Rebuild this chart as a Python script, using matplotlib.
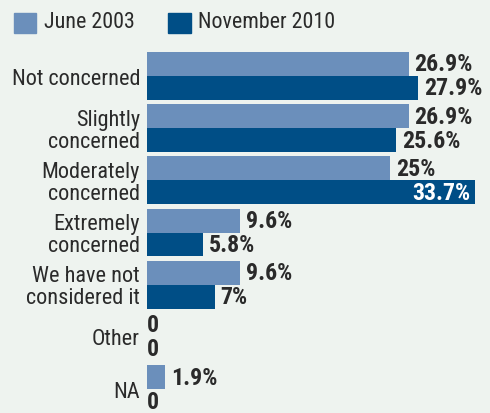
import matplotlib
matplotlib.use("Agg")
import matplotlib.pyplot as plt
from matplotlib.patches import Rectangle
from matplotlib import font_manager as fm

categories = ["Not concerned", "Slightly\nconcerned", "Moderately\nconcerned",
              "Extremely\nconcerned", "We have not\nconsidered it", "Other", "NA"]
june_2003 = [26.9, 26.9, 25.0, 9.6, 9.6, 0.0, 1.9]
nov_2010 = [27.9, 25.6, 33.7, 5.8, 7.0, 0.0, 0.0]
june_labels = ["26.9%", "26.9%", "25%", "9.6%", "9.6%", "0", "1.9%"]
nov_labels = ["27.9%", "25.6%", "33.7%", "5.8%", "7%", "0", "0"]
series_names = ["June 2003", "November 2010"]

BG = "#eef3ef"
C1 = "#6b8fbb"
C2 = "#004e86"
TXT = "#2a2a2a"
_names = {f.name for f in fm.fontManager.ttflist}
_cands = ["Roboto Condensed", "Archivo Narrow", "Liberation Sans Narrow", "Liberation Sans", "DejaVu Sans"]
FONT = [c for c in _cands if c in _names] or ["DejaVu Sans"]
plt.rcParams["font.family"] = FONT

W, H = 490, 414
fig = plt.figure(figsize=(W/100, H/100), dpi=100, facecolor=BG)
ax = fig.add_axes([147/W, 0, 1-147/W, 1-53/H])
ax.set_facecolor(BG)
bh = 0.46
n = len(categories)
ys = list(range(n))
ax.barh([y - bh/2 for y in ys], june_2003, height=bh, color=C1, align="center")
ax.barh([y + bh/2 for y in ys], nov_2010, height=bh, color=C2, align="center")
ax.set_ylim(n - 1 + bh, -bh)
ax.set_xlim(0, (W-147)/9.73)
ax.axis("off")

FS = 16
LFS = 15.8
VFS = 17.2
VW = "bold"
for y, v, lab in zip(ys, june_2003, june_labels):
    ax.annotate(lab, (v, y - bh/2), xytext=(4 if v > 0 else 0, 0), textcoords="offset points",
                ha="left", va="center", fontsize=VFS, fontweight=VW, color=TXT)
for y, v, lab in zip(ys, nov_2010, nov_labels):
    if v > 30:
        ax.annotate(lab, (v, y + bh/2), xytext=(-3, 0), textcoords="offset points",
                    ha="right", va="center", fontsize=VFS, fontweight=VW, color="white")
    else:
        ax.annotate(lab, (v, y + bh/2), xytext=(4 if v > 0 else 0, 0), textcoords="offset points",
                    ha="left", va="center", fontsize=VFS, fontweight=VW, color=TXT)
for y, c in zip(ys, categories):
    ax.annotate(c, (0, y), xytext=(-5, -1.5), textcoords="offset points", ha="right", va="center",
                fontsize=FS, color=TXT, linespacing=1.08, multialignment="right")

# legend
fig.patches.append(Rectangle((14/W, 1-34/H), 22/W, 20/H, transform=fig.transFigure, color=C1))
fig.text(44/W, 1-23/H, series_names[0], fontsize=LFS, color=TXT, va="center", ha="left")
fig.patches.append(Rectangle((168/W, 1-34/H), 23/W, 20/H, transform=fig.transFigure, color=C2))
fig.text(198/W, 1-23/H, series_names[1], fontsize=LFS, color=TXT, va="center", ha="left")

fig.savefig("out.png", dpi=100, facecolor=BG)
